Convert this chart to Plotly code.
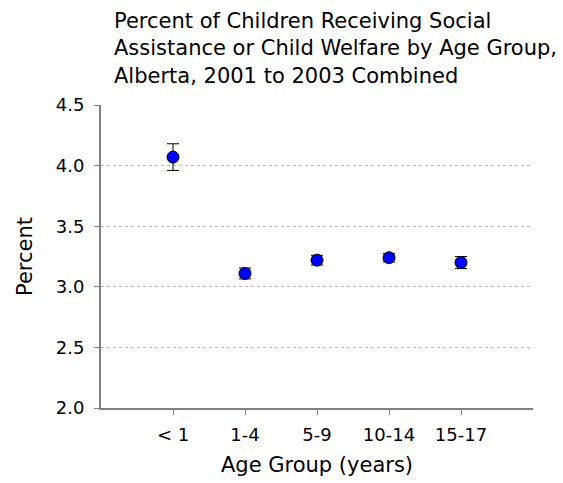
import plotly.graph_objects as go

# Age groups and rates (percent), with 95% confidence half-widths
age_groups = ["< 1", "1-4", "5-9", "10-14", "15-17"]
percent = [4.07, 3.11, 3.22, 3.24, 3.20]
ci_half = [0.11, 0.045, 0.04, 0.035, 0.05]

y_ticks = [2.0, 2.5, 3.0, 3.5, 4.0, 4.5]
y_tick_text = ["2.0", "2.5", "3.0", "3.5", "4.0", "4.5"]

title_text = ("Percent of Children Receiving Social<br>"
              "Assistance or Child Welfare by Age Group,<br>"
              "Alberta, 2001 to 2003 Combined")

FONT = "DejaVu Sans"
AXIS_GREY = "#808080"

fig = go.Figure(
    go.Scatter(
        x=list(range(len(age_groups))),
        y=percent,
        mode="markers",
        marker=dict(size=12, color="#0000FF", line=dict(color="black", width=1)),
        error_y=dict(type="data", array=ci_half, color="black", thickness=1, width=6),
        showlegend=False,
    )
)

fig.update_layout(
    width=563,
    height=483,
    margin=dict(l=101, r=30, t=105, b=75),
    paper_bgcolor="white",
    plot_bgcolor="white",
    font=dict(family=FONT, size=18, color="black"),
    annotations=[
        dict(
            text=title_text,
            xref="paper", yref="paper",
            x=0, y=1.325,
            xshift=11,
            xanchor="left", yanchor="top",
            align="left",
            showarrow=False,
            font=dict(family=FONT, size=21, color="black"),
        )
    ],
)

fig.update_xaxes(
    range=[-1, 5],
    tickmode="array",
    tickvals=list(range(len(age_groups))),
    ticktext=age_groups,
    showgrid=False,
    showline=True,
    linecolor=AXIS_GREY,
    linewidth=2,
    ticks="outside",
    ticklen=5,
    tickcolor=AXIS_GREY,
    tickfont=dict(family=FONT, size=18),
    ticklabelstandoff=4,
    title=dict(text="Age Group (years)", font=dict(family=FONT, size=21), standoff=14),
    automargin=False,
    zeroline=False,
)

fig.update_yaxes(
    range=[2.0, 4.5],
    tickmode="array",
    tickvals=y_ticks,
    ticktext=y_tick_text,
    showgrid=True,
    gridcolor="#BBBBBB",
    griddash="dot",
    gridwidth=1,
    showline=True,
    linecolor=AXIS_GREY,
    linewidth=2,
    ticks="outside",
    ticklen=5,
    tickcolor=AXIS_GREY,
    tickfont=dict(family=FONT, size=18),
    ticklabelstandoff=6,
    title=dict(text="Percent", font=dict(family=FONT, size=21), standoff=17),
    automargin=False,
    zeroline=False,
)

fig.write_html("out.html")
